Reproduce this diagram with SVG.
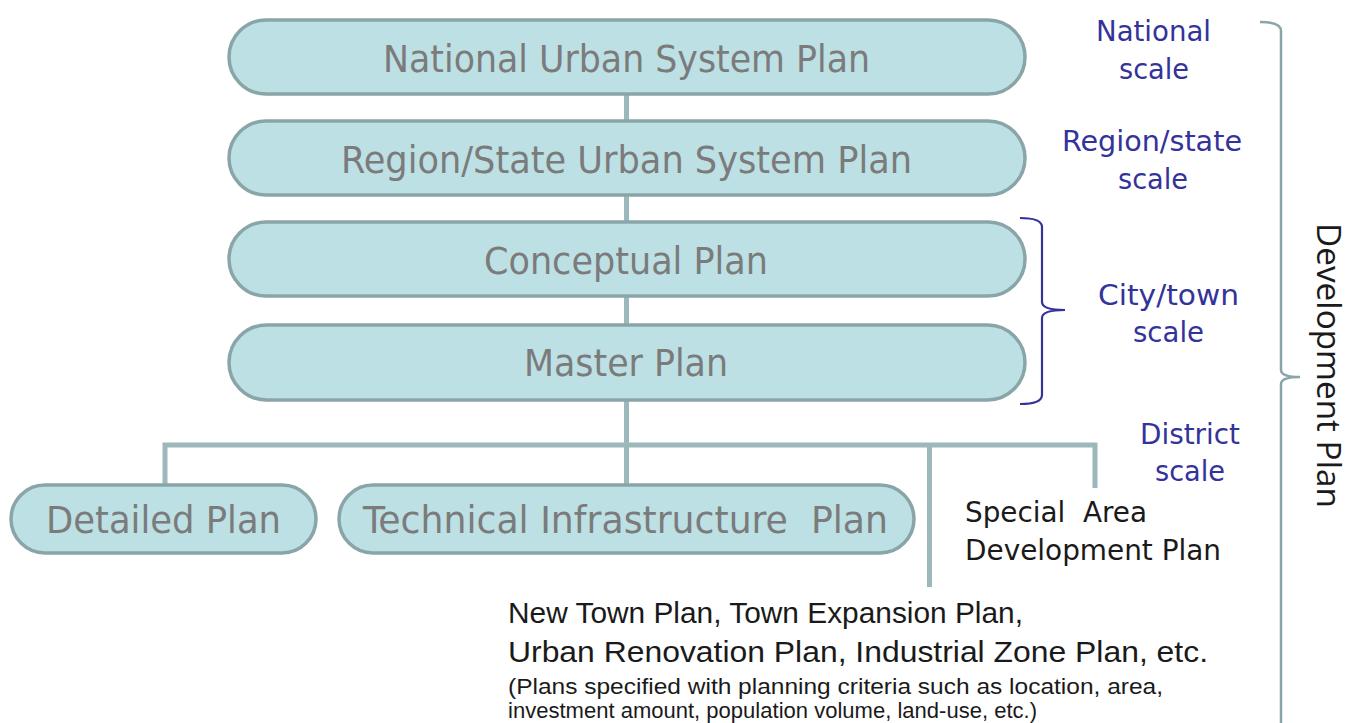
<svg xmlns="http://www.w3.org/2000/svg" width="1351" height="723" viewBox="0 0 1351 723">
<style>
.node rect{fill:#bde0e4;stroke:#8aa5a8;stroke-width:3.5}
.node text{font-family:"DejaVu Sans Condensed","DejaVu Sans",sans-serif;font-size:37px;fill:#7b7b7b;text-anchor:start}
.conn{fill:none;stroke:#9db8bb;stroke-width:5}
.scale{font-family:"DejaVu Sans Condensed","DejaVu Sans",sans-serif;font-size:28px;fill:#333399}
.black{font-family:"DejaVu Sans Condensed","DejaVu Sans",sans-serif;font-size:28px;fill:#1a1a1a}
.narrow{font-family:"Liberation Sans",Arial,sans-serif;fill:#1a1a1a}
</style>
<rect width="1351" height="723" fill="#ffffff"/>
<g id="connectors">
<path class="conn" d="M626.5 94V121M626.5 195V221M626.5 296V325M626.5 400V485"/>
<path class="conn" d="M165 485V445H1095V488"/>
<path class="conn" d="M929.5 445V587"/>
</g>
<g id="node-national" class="node">
<rect x="229" y="20" width="796" height="74" rx="37"/>
<text x="383" y="72" textLength="487" lengthAdjust="spacingAndGlyphs">National Urban System Plan</text>
</g>
<g id="node-region" class="node">
<rect x="229" y="121" width="796" height="74" rx="37"/>
<text x="341" y="173" textLength="571" lengthAdjust="spacingAndGlyphs">Region/State Urban System Plan</text>
</g>
<g id="node-conceptual" class="node">
<rect x="229" y="222" width="796" height="74" rx="37"/>
<text x="484" y="274" textLength="284" lengthAdjust="spacingAndGlyphs">Conceptual Plan</text>
</g>
<g id="node-master" class="node">
<rect x="229" y="325" width="796" height="75" rx="37.5"/>
<text x="524" y="376" textLength="204" lengthAdjust="spacingAndGlyphs">Master Plan</text>
</g>
<g id="node-detailed" class="node">
<rect x="11" y="485" width="305" height="68" rx="34"/>
<text x="46" y="533" textLength="235" lengthAdjust="spacingAndGlyphs">Detailed Plan</text>
</g>
<g id="node-technical" class="node">
<rect x="339" y="485" width="575" height="68" rx="34"/>
<text x="363" y="533" textLength="525" lengthAdjust="spacingAndGlyphs" xml:space="preserve">Technical Infrastructure  Plan</text>
</g>
<g id="node-special">
<text class="black" x="965" y="522" textLength="182" lengthAdjust="spacingAndGlyphs" xml:space="preserve">Special  Area</text>
<text class="black" x="965" y="560" textLength="256" lengthAdjust="spacingAndGlyphs">Development Plan</text>
</g>
<g id="node-newtown">
<text class="narrow" x="508" y="623" font-size="30" textLength="515" lengthAdjust="spacingAndGlyphs">New Town Plan, Town Expansion Plan,</text>
<text class="narrow" x="508" y="662" font-size="30" textLength="700" lengthAdjust="spacingAndGlyphs">Urban Renovation Plan, Industrial Zone Plan, etc.</text>
<text class="narrow" x="508" y="694" font-size="22" textLength="655" lengthAdjust="spacingAndGlyphs">(Plans specified with planning criteria such as location, area,</text>
<text class="narrow" x="508" y="718" font-size="22" textLength="529" lengthAdjust="spacingAndGlyphs">investment amount, population volume, land-use, etc.)</text>
</g>
<g id="scale-labels">
<text class="scale" x="1096" y="41" textLength="115" lengthAdjust="spacingAndGlyphs">National</text>
<text class="scale" x="1119" y="79" textLength="70" lengthAdjust="spacingAndGlyphs">scale</text>
<text class="scale" x="1062" y="151" textLength="180" lengthAdjust="spacingAndGlyphs">Region/state</text>
<text class="scale" x="1118" y="189" textLength="70" lengthAdjust="spacingAndGlyphs">scale</text>
<text class="scale" x="1098" y="305" textLength="141" lengthAdjust="spacingAndGlyphs">City/town</text>
<text class="scale" x="1133" y="342" textLength="71" lengthAdjust="spacingAndGlyphs">scale</text>
<text class="scale" x="1140" y="444" textLength="100" lengthAdjust="spacingAndGlyphs">District</text>
<text class="scale" x="1155" y="481" textLength="70" lengthAdjust="spacingAndGlyphs">scale</text>
</g>
<g id="brackets" fill="none">
<path d="M1020 218Q1042 218 1042 227V302Q1042 310 1065 310Q1042 310 1042 318V395Q1042 404 1020 404" stroke="#333399" stroke-width="2.2"/>
<path d="M1260 22Q1281 22 1281 31V370Q1281 377 1300 377Q1281 377 1281 384V723" stroke="#8aa5a8" stroke-width="2.5"/>
</g>
<g id="dev-plan-label">
<text transform="translate(1317 223) rotate(90)" x="0" y="0" font-family="'Open Sans','DejaVu Sans',sans-serif" font-size="32" fill="#1a1a1a" textLength="285" lengthAdjust="spacingAndGlyphs">Development Plan</text>
</g>
</svg>
